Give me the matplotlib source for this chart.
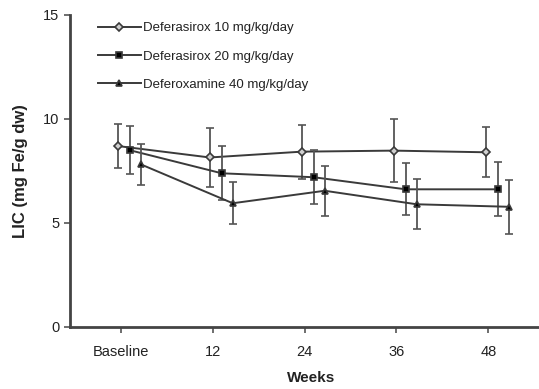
import matplotlib
matplotlib.use('Agg')
import matplotlib.pyplot as plt
import numpy as np

plt.rcParams['font.family'] = ['Liberation Sans Narrow', 'Liberation Sans', 'DejaVu Sans']

weeks = ['Baseline', '12', '24', '36', '48']

dfx10 = [8.7, 8.15, 8.43, 8.48, 8.4]
dfx10_err = [1.07, 1.4, 1.3, 1.5, 1.2]
dfx20 = [8.5, 7.39, 7.2, 6.62, 6.62]
dfx20_err = [1.15, 1.3, 1.3, 1.25, 1.3]
dfo40 = [7.82, 5.95, 6.55, 5.9, 5.78]
dfo40_err = [1.0, 1.0, 1.2, 1.2, 1.3]

labels = ['Deferasirox 10 mg/kg/day', 'Deferasirox 20 mg/kg/day', 'Deferoxamine 40 mg/kg/day']

fig = plt.figure(figsize=(5.39, 3.89), dpi=100)
ax = fig.add_axes([70 / 539, 1 - 327 / 389, 469 / 539, 312 / 389])

x = np.arange(len(weeks))
col = '#3a3a3a'
series = [
    (dfx10, dfx10_err, -0.03, 'D', '#d0d0d0', 4.5),
    (dfx20, dfx20_err, 0.10, 's', 'black', 5),
    (dfo40, dfo40_err, 0.22, '^', 'black', 5),
]
for (vals, err, off, mk, fc, ms), lab in zip(series, labels):
    ax.errorbar(x + off, vals, yerr=err, fmt='none', ecolor='#555555',
                elinewidth=1.3, capsize=3, capthick=1.2)
    ax.plot(x + off, vals, color=col, lw=1.4, marker=mk, ms=ms,
            mfc=fc, mec=col, mew=1.2, label=lab)

ax.set_xlim(-0.55, 4.55)
ax.set_ylim(0, 15)
ax.set_xticks(x)
ax.set_xticklabels(weeks)
ax.set_yticks([0, 5, 10, 15])
ax.tick_params(labelsize=10.5, length=4, width=1.2, color='#555555', labelcolor='#222222')
ax.tick_params(axis='x', pad=9)
for s in ['top', 'right']:
    ax.spines[s].set_visible(False)
for s in ['left', 'bottom']:
    ax.spines[s].set_linewidth(2)
    ax.spines[s].set_color('#444444')

ax.set_xlabel('Weeks', fontsize=11, fontweight='bold', color='#222222')
ax.xaxis.set_label_coords(0.515, -0.14)
ax.set_ylabel('LIC (mg Fe/g dw)', fontsize=12, fontweight='bold', labelpad=11, color='#222222')

leg = ax.legend(loc='upper left', bbox_to_anchor=(0.035, 1.015), frameon=False,
                fontsize=9.5, handlelength=3.2, labelspacing=1.2, handletextpad=0.2)
for t in leg.get_texts():
    t.set_color('#222222')

fig.savefig('out.png', dpi=100)
